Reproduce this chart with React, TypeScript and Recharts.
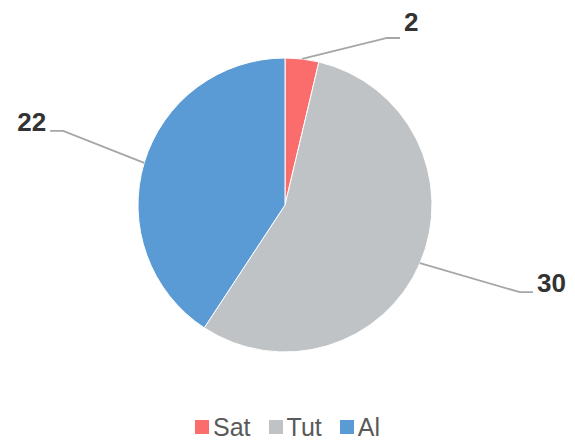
import { PieChart, Pie, Cell, Legend } from 'recharts'

const categories = ['Sat', 'Tut', 'Al']
const values = [2, 30, 22]
const colors = ['#fb6d6d', '#bfc3c5', '#5b9bd5']

// leader line elbow offset from slice edge, and text baseline shift
const labelOffsets: [number, number, number][] = [
  [85, -21, -7],
  [100, 29, 0],
  [-81, -32, 0],
]

const data = categories.map((name, i) => ({ name, value: values[i] }))

const RAD = Math.PI / 180
const FONT = '"Liberation Sans", Arial, sans-serif'

function renderLabel(props: any) {
  const { cx, cy, midAngle, outerRadius, index, value } = props
  const sx = cx + outerRadius * Math.cos(-midAngle * RAD)
  const sy = cy + outerRadius * Math.sin(-midAngle * RAD)
  const [dx, dy, tdy] = labelOffsets[index]
  const ex = sx + dx
  const ey = sy + dy
  const dir = dx >= 0 ? 1 : -1
  const hx = ex + dir * 13
  return (
    <g>
      <polyline
        points={`${sx},${sy} ${ex},${ey} ${hx},${ey}`}
        fill="none"
        stroke="#a6a6a6"
        strokeWidth={1.8}
      />
      <text
        x={hx + dir * 4}
        y={ey + tdy}
        textAnchor={dir > 0 ? 'start' : 'end'}
        fill="#333"
        fontSize={26}
        fontWeight="bold"
        fontFamily={FONT}
      >
        {value}
      </text>
    </g>
  )
}

function renderLegend() {
  return (
    <div
      style={{
        display: 'flex',
        justifyContent: 'center',
        alignItems: 'center',
        fontFamily: FONT,
        fontSize: 25,
        lineHeight: '28px',
        height: 28,
        color: '#5a5a5a',
      }}
    >
      {categories.map((c, i) => (
        <div key={c} style={{ display: 'flex', alignItems: 'center', marginRight: i < categories.length - 1 ? 18 : 0 }}>
          <span style={{ width: 14, height: 14, background: colors[i], display: 'inline-block', marginRight: 4 }} />
          <span>{c}</span>
        </div>
      ))}
    </div>
  )
}

export default function App() {
  return (
    <div style={{ position: 'absolute', left: 0, top: 0, background: '#fff' }}>
      <PieChart width={575} height={441}>
        <Pie
          data={data}
          dataKey="value"
          nameKey="name"
          cx={280}
          cy={200}
          outerRadius={147}
          startAngle={90}
          endAngle={-270}
          stroke="#fff"
          strokeWidth={1}
          label={renderLabel}
          labelLine={false}
          isAnimationActive={false}
        >
          {data.map((d, i) => (
            <Cell key={d.name} fill={colors[i]} />
          ))}
        </Pie>
        <Legend
          verticalAlign="bottom"
          content={renderLegend}
          wrapperStyle={{ bottom: 0, height: 28 }}
        />
      </PieChart>
    </div>
  )
}
